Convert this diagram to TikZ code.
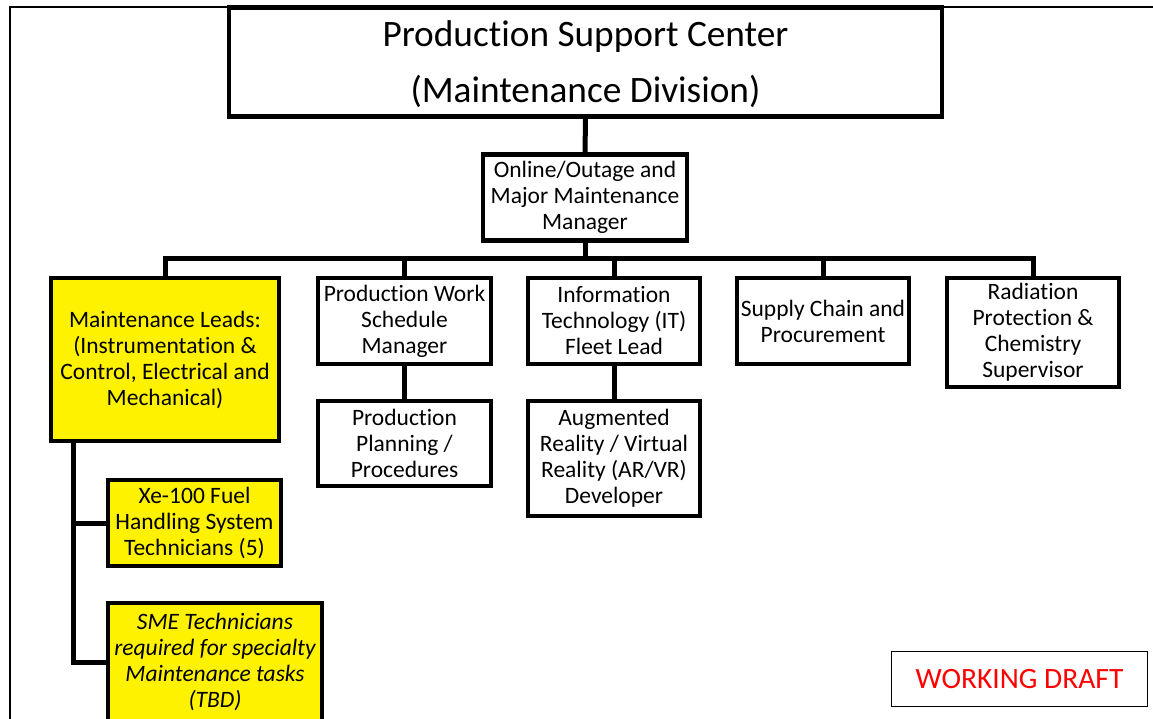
\documentclass[tikz,border=0pt]{standalone}
\usepackage{fontspec}
\setmainfont[Ligatures=NoCommon]{Carlito}
\begin{document}
\begin{tikzpicture}[x=1pt,y=-1pt,
  box/.style={draw=black,line width=4.5pt,fill=white,inner sep=0pt,align=center,
    font=\fontsize{23.5}{26}\selectfont},
  lead/.style={box,fill=yellow},
  link/.style={draw=black,line width=5pt},
  frame/.style={draw=black,line width=2.5pt}]
\useasboundingbox (0,0) rectangle (1153,719);
\clip (0,0) rectangle (1153,719);

% outer frame (open at right and bottom)
\draw[frame] (10,730) -- (10,7) -- (1160,7);

% top-level box, its two-line title set slightly low
\node[box,minimum width=713pt,minimum height=109pt] (psc) at (585.5,62) {};
\node[align=center,inner sep=0pt,font=\fontsize{37.3}{56}\selectfont] (psctitle)
  at (585.5,64) {Production Support Center\\(Maintenance Division)};

% boxes
\node[box,minimum width=204pt,minimum height=86pt] (mgr) at (585,197.5)
  {Online/Outage and\\Major Maintenance\\Manager};
\node[lead,minimum width=228pt,minimum height=163pt] (ml) at (165,359.5)
  {Maintenance Leads:\\(Instrumentation \&\\Control, Electrical and\\Mechanical)};
\node[box,minimum width=173pt,minimum height=86pt] (pws) at (404.5,321)
  {Production Work\\Schedule\\Manager};
\node[box,minimum width=172pt,minimum height=86pt] (it) at (614,321)
  {Information\\Technology (IT)\\Fleet Lead};
\node[box,minimum width=172pt,minimum height=86pt] (sup) at (823,321)
  {Supply Chain and\\Procurement};
\node[box,minimum width=172pt,minimum height=109pt] (rad) at (1033,332.5)
  {Radiation\\Protection \&\\Chemistry\\Supervisor};
\node[box,minimum width=173pt,minimum height=85pt] (ppp) at (404.5,443.5)
  {Production\\Planning /\\Procedures};
\node[box,minimum width=172pt,minimum height=115pt] (arvr) at (614,458.5)
  {Augmented\\Reality / Virtual\\Reality (AR/VR)\\Developer};
\node[lead,minimum width=173pt,minimum height=86pt] (xe) at (194.5,523)
  {Xe-100 Fuel\\Handling System\\Technicians (5)};
\node[lead,minimum width=214pt,minimum height=118pt,
      font=\fontsize{23.5}{26}\selectfont\itshape] (sme) at (215,662)
  {SME Technicians\\required for specialty\\Maintenance tasks\\(TBD)};
\node[draw=black,line width=1.5pt,minimum width=256pt,minimum height=55pt,
      inner sep=0pt,text=red,font=\fontsize{29.5}{32}\selectfont] (wd) at (1019.5,679)
  {WORKING DRAFT};

% connectors
\coordinate (bus) at (585,259);
\coordinate (mlbus) at (73,0);
\draw[link] (psc.south) -- (mgr.north);
\draw[link] (mgr.south) -- (bus);
\draw[link] (ml.north) -- (ml.north |- bus) -- (rad.north |- bus) -- (rad.north);
\draw[link] (pws.north |- bus) -- (pws.north);
\draw[link] (it.north |- bus) -- (it.north);
\draw[link] (sup.north |- bus) -- (sup.north);
\draw[link] (pws.south) -- (ppp.north);
\draw[link] (it.south) -- (arvr.north);
\draw[link] (mlbus |- ml.south) -- (mlbus |- sme.west) -- (sme.west);
\draw[link] (mlbus |- xe.west) -- (xe.west);
\end{tikzpicture}
\end{document}
